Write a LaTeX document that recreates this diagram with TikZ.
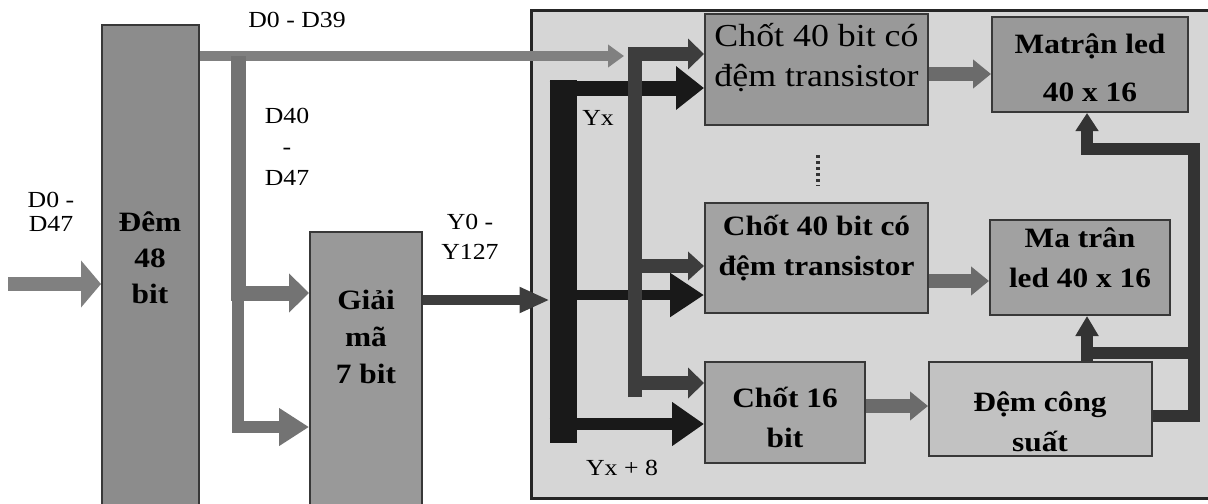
\documentclass[tikz,border=0pt]{standalone}
\usepackage{fontspec}
\setmainfont[FakeStretch=1.12]{Liberation Serif}
\usetikzlibrary{arrows.meta,fit}
\begin{document}
\begin{tikzpicture}[x=0.5pt,y=-0.5pt,
  box/.style={draw=black!78, line width=1pt, inner sep=0pt, align=center,
    font=\fontsize{14}{20}\selectfont\bfseries},
  btext/.style={draw=none, fill=none, inner sep=0pt, align=center,
    font=\fontsize{14}{20}\selectfont\bfseries},
  lbl/.style={align=center, inner sep=0pt, font=\fontsize{11.5}{15}\selectfont},
  gbus/.style={draw=black!50, line width=5pt},
  vbus/.style={draw=black!55, line width=7.5pt},
  dline/.style={draw=black!76, line width=7pt},
  blk/.style={draw=black!90, line width=#1},
  harrow/.style={draw=black!58, line width=7pt, -{Triangle[width=14pt,length=9pt]}},
  pw/.style={draw=black!80, line width=6pt}
]
\useasboundingbox (0,0) rectangle (1208,503);
% frame
\node[draw=black!85, line width=1.5pt, fill=black!16, inner sep=0pt,
  fit={(531,10)(1220,498)}] (frame) {};
% boxes
\node[box, fill=black!45, fit={(102,25)(199,506)}] (dem) {};
\node[box, fill=black!40, fit={(310,232)(422,506)}] (gm) {};
\node[box, fill=black!40, fit={(705,14)(928,125)},
  font=\fontsize{16}{20}\selectfont] (c1) {Chốt 40 bit có\\đệm transistor};
\node[box, fill=black!36, fit={(705,203)(928,313)}] (c2) {Chốt 40 bit có\\đệm transistor};
\node[box, fill=black!34, fit={(705,362)(865,463)}] (c16) {};
\node[box, fill=black!40, fit={(992,17)(1188,112)}] (m1) {};
\node[box, fill=black!37, fit={(990,220)(1170,315)}] (m2) {Ma trân\\led 40 x 16};
\node[box, fill=black!24, fit={(929,362)(1152,456)}] (dc) {};
\node[btext, font=\fontsize{14}{18}\selectfont\bfseries]
  (demt) at (150,258) {Đêm\\48\\bit};
\node[btext, font=\fontsize{14}{18.5}\selectfont\bfseries]
  (gmt) at (366,337) {Giải\\mã\\7 bit};
\node[btext] (c16t) at (785,417) {Chốt 16\\bit};
\node[btext] (dct) at (1040,422) {Đệm công\\suất};
\node[btext, font=\fontsize{14}{24}\selectfont\bfseries] (m1t) at (1090,68) {Matrận led\\40 x 16};
% black bar
\node[fill=black!90, inner sep=0pt, fit={(550,80)(577,443)}] (bar) {};
% coordinates
\coordinate (in) at (8,284);
\coordinate (j1) at (238,56);
\coordinate (d39end) at (624,56);
\coordinate (vbot) at (635,397);
\coordinate (p1) at (1194,149);
\coordinate (q1) at (1087,353);
\coordinate (q2) at (1194,353);
% input arrow
\draw[draw=black!50, line width=7pt, -{Triangle[width=23pt,length=10pt]}]
  (in) -- (in -| dem.west);
% D0-D39 bus
\draw[gbus, -{Triangle[width=11pt,length=8pt]}] (dem.east |- j1) -- (d39end);
% D40-D47 branch
\draw[vbus, -{Triangle[width=19pt,length=10pt]}] (j1) |- (gm.west |- 0,293);
\draw[vbus, line width=6pt, -{Triangle[width=18pt,length=15pt]}] (j1) |- (gm.west |- 0,427);
% Y0-Y127
\draw[draw=black!76, line width=5pt, -{Triangle[width=12pt,length=15pt]}]
  (gm.east |- 0,300) -- (bar.west |- 0,300);
% black bar arms
\draw[blk=7.5pt, -{Triangle[width=21pt,length=14pt]}] (bar.west |- 0,88) -- (c1.west |- 0,88);
\draw[blk=5pt, -{Triangle[width=21pt,length=17pt]}] (bar.east |- 0,295) -- (c2.west |- 0,295);
\draw[blk=6pt, -{Triangle[width=21pt,length=16pt]}] (bar.west |- 0,424) -- (c16.west |- 0,424);
% gray vertical line with arrows
\draw[dline, -{Triangle[width=15pt,length=8pt]}] (vbot) |- (c1.west |- 0,54);
\draw[dline, -{Triangle[width=14pt,length=8pt]}] (vbot |- 0,266) -- (c2.west |- 0,266);
\draw[dline, -{Triangle[width=15pt,length=8pt]}] (vbot |- 0,383) -- (c16.west |- 0,383);
% right arrows
\draw[harrow] (c1.east |- 0,74) -- (m1.west |- 0,74);
\draw[harrow] (c2.east |- 0,281) -- (m2.west |- 0,281);
\draw[harrow] (c16.east |- 0,406) -- (dc.west |- 0,406);
% power lines
\draw[pw, -{Triangle[width=11pt,length=9pt]}] (dc.east |- 0,416) -| (p1) -| (m1.south -| q1);
\draw[pw, -{Triangle[width=11pt,length=10pt]}] (dc.north -| q1) -- (m2.south -| q1);
\draw[pw] (q1) -- (q2);
% dots
\draw[black!80, line width=2pt, dash pattern=on 1.5pt off 1.5pt] (818,155) -- (818,186);
% labels
\node[lbl] (l1) at (297,20) {D0 - D39};
\node[lbl, font=\fontsize{11.5}{12}\selectfont] (l2) at (51,212) {D0 -\\D47};
\node[lbl, font=\fontsize{11.5}{15.5}\selectfont] (l3) at (287,147) {D40\\-\\D47};
\node[lbl] (l4) at (470,237) {Y0 -\\Y127};
\node[lbl] (l5) at (598,118) {Yx};
\node[lbl] (l6) at (622,468) {Yx + 8};
\end{tikzpicture}
\end{document}
